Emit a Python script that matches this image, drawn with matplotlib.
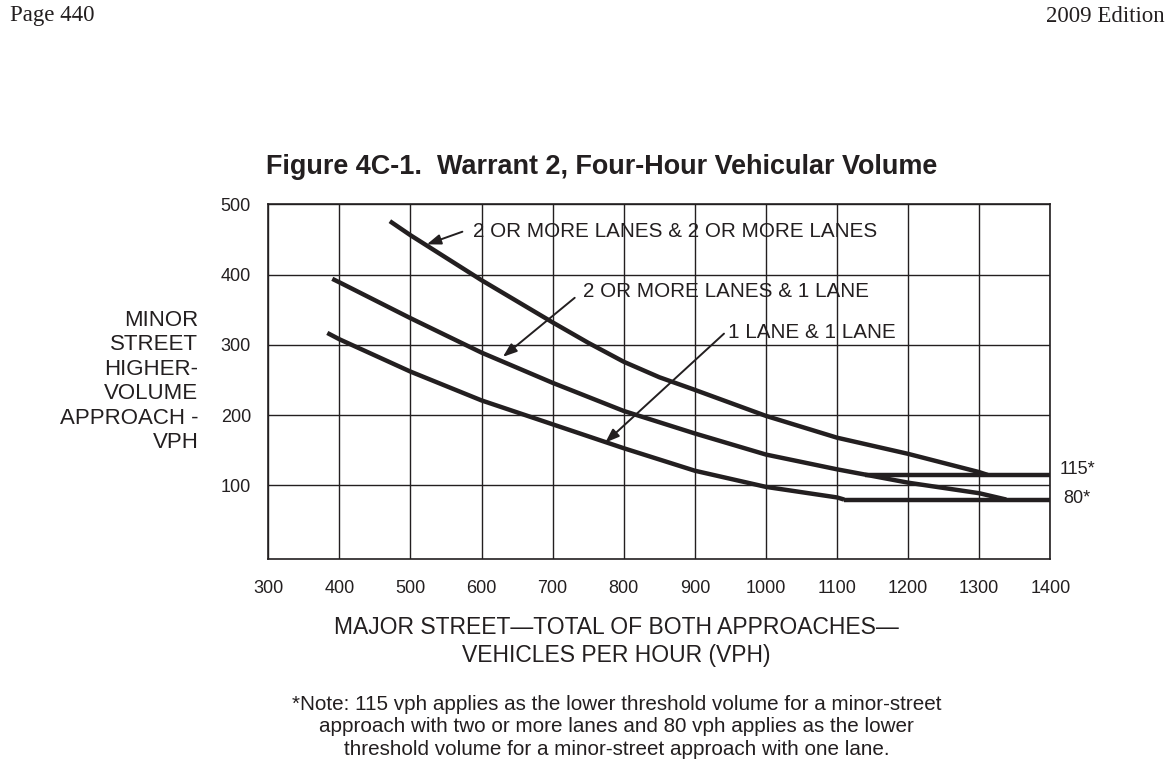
import matplotlib
matplotlib.use("Agg")
import matplotlib.pyplot as plt

# ---------------- data ----------------
# 2 or more lanes & 2 or more lanes
x_2l_2l = [471, 500, 550, 600, 650, 700, 750, 800, 850, 900, 1000, 1100, 1200, 1300, 1312]
y_2l_2l = [476, 456, 424, 392, 362, 332, 303, 276, 254, 236, 199, 168, 145, 119, 115]
# 2 or more lanes & 1 lane
x_2l_1l = [390, 400, 500, 600, 700, 800, 900, 1000, 1100, 1200, 1300, 1338]
y_2l_1l = [394, 389, 338, 289, 246, 206, 174, 144, 123, 104, 89, 80]
# 1 lane & 1 lane
x_1l_1l = [383, 400, 500, 600, 700, 800, 900, 1000, 1100, 1110]
y_1l_1l = [317, 308, 262, 221, 187, 153, 121, 98, 83, 80]
# lower thresholds
thr_115_x = [1140, 1400]
thr_115_y = [115, 115]
thr_80_x = [1110, 1400]
thr_80_y = [80, 80]

x_ticks = [300, 400, 500, 600, 700, 800, 900, 1000, 1100, 1200, 1300, 1400]
y_ticks = [100, 200, 300, 400, 500]

INK = "#231f20"
SANS = ["Liberation Sans", "DejaVu Sans"]
SERIF = ["Liberation Serif", "DejaVu Serif"]

fig = plt.figure(figsize=(11.68, 7.63), dpi=100)
ax = fig.add_axes([268.3 / 1168, 1 - 559.3 / 763, (1050.3 - 268.3) / 1168, (559.3 - 204.3) / 763])

ax.set_xlim(300, 1400)
ax.set_ylim(-5, 500)
ax.set_xticks(x_ticks)
ax.set_yticks(y_ticks)
ax.grid(True, color=INK, lw=1.0)
ax.set_axisbelow(True)
for s in ax.spines.values():
    s.set_color(INK)
    s.set_linewidth(1.2)
ax.tick_params(length=0, labelsize=13, colors=INK)
ax.tick_params(axis="x", pad=15)
ax.tick_params(axis="y", pad=12.5)
for lab in ax.get_xticklabels() + ax.get_yticklabels():
    lab.set_family(SANS)

lw = 3.2
kw = dict(color=INK, lw=lw, solid_joinstyle="round", solid_capstyle="butt", zorder=3)
ax.plot(x_2l_2l, y_2l_2l, **kw)
ax.plot(x_2l_1l, y_2l_1l, **kw)
ax.plot(x_1l_1l, y_1l_1l, **kw)
ax.plot(thr_115_x, thr_115_y, **kw)
ax.plot(thr_80_x, thr_80_y, **kw)

ap = dict(arrowstyle="-|>,head_length=0.6,head_width=0.22", color=INK, lw=1.4,
          shrinkA=0, shrinkB=0, mutation_scale=14)
ax.annotate("", xy=(523, 443), xytext=(573, 461), arrowprops=ap, zorder=4)
ax.annotate("", xy=(630, 283), xytext=(731, 367), arrowprops=ap, zorder=4)
ax.annotate("", xy=(774, 161), xytext=(941, 316), arrowprops=ap, zorder=4)

tkw = dict(fontsize=14.9, color=INK, family=SANS, ha="left", va="center", zorder=5)
ax.text(587.5, 462, "2 OR MORE LANES & 2 OR MORE LANES", **tkw)
ax.text(742.6, 375.5, "2 OR MORE LANES & 1 LANE", **tkw)
ax.text(947, 317, "1 LANE & 1 LANE", **tkw)

ax.text(1413, 123, "115*", fontsize=13, color=INK, family=SANS, ha="left", va="center", clip_on=False)
ax.text(1417.6, 82, "80*", fontsize=13, color=INK, family=SANS, ha="left", va="center", clip_on=False)

# titles and labels
fig.text(601.5 / 1168, 1 - 167 / 763, "Figure 4C-1.  Warrant 2, Four-Hour Vehicular Volume",
         fontsize=19.45, fontweight="bold", family=SANS, color=INK, ha="center", va="center")
fig.text(198.3 / 1168, 1 - 381.5 / 763, "MINOR\nSTREET\nHIGHER-\nVOLUME\nAPPROACH -\nVPH",
         fontsize=16, family=SANS, color=INK, ha="right", va="center", multialignment="right",
         linespacing=1.22)
fig.text(616.5 / 1168, 1 - 641.5 / 763, "MAJOR STREET\u2014TOTAL OF BOTH APPROACHES\u2014\nVEHICLES PER HOUR (VPH)",
         fontsize=16.5, family=SANS, color=INK, ha="center", va="center", linespacing=1.25)
fig.text(616.5 / 1168, 1 - 727 / 763,
         "*Note: 115 vph applies as the lower threshold volume for a minor-street\n"
         "approach with two or more lanes and 80 vph applies as the lower\n"
         "threshold volume for a minor-street approach with one lane.",
         fontsize=14.85, family=SANS, color=INK, ha="center", va="center", linespacing=1.24)

fig.text(10 / 1168, 1 - 16 / 763, "Page 440", fontsize=16.5, family=SERIF, color=INK, ha="left", va="center")
fig.text(1165 / 1168, 1 - 16 / 763, "2009 Edition", fontsize=16.5, family=SERIF, color=INK, ha="right", va="center")

fig.savefig("out.png", dpi=100)
